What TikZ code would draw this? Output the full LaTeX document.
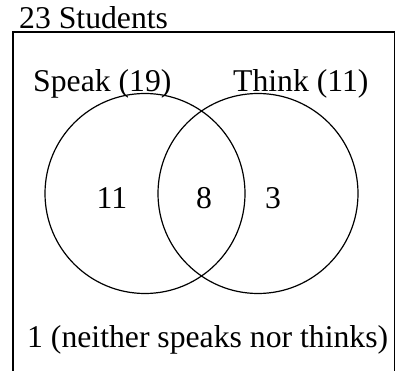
\documentclass[tikz,border=0pt]{standalone}
\usepackage{fontspec}
\setmainfont{Liberation Serif}
\usetikzlibrary{positioning}

\begin{document}
\begin{tikzpicture}[
        x=1pt, y=-1pt,
        txt/.style={inner sep=0pt, anchor=base west, font=\fontsize{31.7}{38}\selectfont},
        num/.style={inner sep=0pt, font=\fontsize{31.7}{38}\selectfont},
        circ/.style={draw, circle, line width=1.2pt, minimum size=200pt, inner sep=0pt},
    ]
    \useasboundingbox (0,0) rectangle (396,371);
    \clip (0,0) rectangle (396,371);

    % ---- UNIVERSE ----
    \node[txt] (total) at (19,29) {23 Students};
    \coordinate (box-nw) at (13,32);
    \coordinate (box-se) at (394.5,400);
    \draw[line width=1.5pt] (box-nw) rectangle (box-se);

    % ---- SETS ----
    \node[circ] (speak) at (145,193.5) {};
    \node[circ] (think) at (258,193.5) {};
    \node[txt] (speak-lbl) at (33,92) {Speak (19)};
    \node[txt] (think-lbl) at (233,92) {Think (11)};

    % ---- REGIONS ----
    \node[num] (only-speak) at (112,198) {11};
    \node[num] (both) at (204,198) {8};
    \node[num] (only-think) at (273,198) {3};
    \node[txt] (neither) at (27,347) {1 (neither speaks nor thinks)};

    \end{tikzpicture}
\end{document}
